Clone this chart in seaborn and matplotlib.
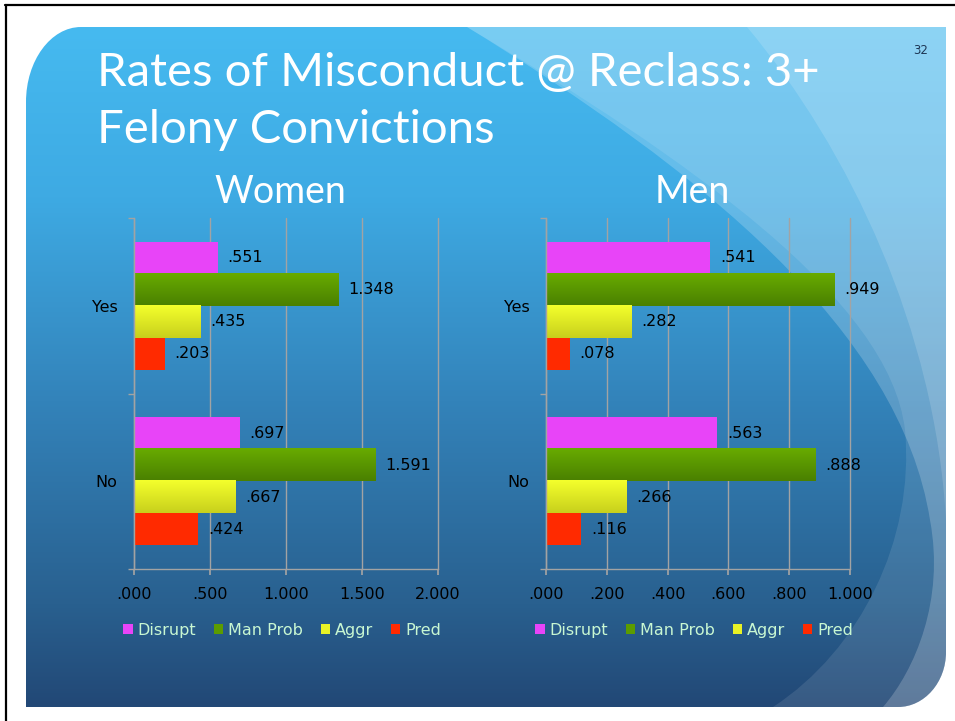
import matplotlib.pyplot as plt
import seaborn as sns
import numpy as np
import pandas as pd
from matplotlib.path import Path
from matplotlib.patches import PathPatch
from matplotlib.colors import LinearSegmentedColormap, to_rgb
from matplotlib.ticker import FuncFormatter, MultipleLocator, FixedLocator

# --- Data ---
answers = ["Yes", "No"]
metrics = ["Disrupt", "Man Prob", "Aggr", "Pred"]

women_disrupt = [0.551, 0.697]
women_man_prob = [1.348, 1.591]
women_aggr = [0.435, 0.667]
women_pred = [0.203, 0.424]

men_disrupt = [0.541, 0.563]
men_man_prob = [0.949, 0.888]
men_aggr = [0.282, 0.266]
men_pred = [0.078, 0.116]

# --- Styling ---
metric_colors = ["#e844f8", "#5c9c00", "#e8f226", "#ff2a00"]
bar_gradients = {"Man Prob": ("#68ab00", "#4a8000"),
                 "Aggr": ("#f4ff2c", "#c8d01c")}
grid_grey = "#a3a3a3"
legend_text = "#c8f7d2"

sns.set_theme(style="white")
plt.rcParams["font.family"] = ["DejaVu Sans"]


def build_frame(disrupt, man_prob, aggr, pred):
    rows = []
    for metric, vals in zip(metrics, [disrupt, man_prob, aggr, pred]):
        for answer, v in zip(answers, vals):
            rows.append({"answer": answer, "metric": metric, "value": v})
    return pd.DataFrame(rows)


def fmt(v, pos=None):
    return f"{v:.3f}".lstrip("0")


def slide_path(x0, y0, x1, y1, tl, br):
    # rounded top-left and bottom-right corners, pixel coords (y down)
    k = 0.45
    verts = [(x0 + tl[0], y0), (x1, y0), (x1, y1 - br[1]),
             (x1, y1 - br[1] * k), (x1 - br[0] * k, y1), (x1 - br[0], y1),
             (x0, y1), (x0, y0 + tl[1]),
             (x0, y0 + tl[1] * k), (x0 + tl[0] * k, y0), (x0 + tl[0], y0),
             (x0 + tl[0], y0)]
    codes = [Path.MOVETO, Path.LINETO, Path.LINETO,
             Path.CURVE4, Path.CURVE4, Path.CURVE4,
             Path.LINETO, Path.LINETO,
             Path.CURVE4, Path.CURVE4, Path.CURVE4,
             Path.CLOSEPOLY]
    return Path(verts, codes)


def swoosh(ax, verts, codes, alpha, clip):
    p = PathPatch(Path(verts, codes), facecolor="white", edgecolor="none",
                  alpha=alpha, transform=ax.transData)
    ax.add_patch(p)
    p.set_clip_path(clip)


fig = plt.figure(figsize=(9.55, 7.21), dpi=100, facecolor="white")

# --- Slide background ---
bg = fig.add_axes([0, 0, 1, 1], zorder=-1)
slide = PathPatch(slide_path(26, 27, 946, 707, (55, 75), (48, 55)),
                  facecolor="none", edgecolor="none", transform=bg.transData)
bg.add_patch(slide)
bg_cmap = LinearSegmentedColormap.from_list(
    "slide", [(0, "#46baf0"), (0.25, "#3eaae3"), (0.55, "#3383ba"),
              (0.85, "#29608f"), (1, "#224876")])
im = bg.imshow(np.linspace(0, 1, 256).reshape(-1, 1), cmap=bg_cmap,
               extent=[26, 946, 707, 27], aspect="auto", interpolation="bilinear")
im.set_clip_path(slide)

C4 = Path.CURVE4
swoosh(bg, [(467, 27), (690, 160), (890, 300), (905, 430),
            (915, 540), (860, 650), (773, 707), (946, 707), (946, 27), (467, 27)],
       [Path.MOVETO, C4, C4, C4, C4, C4, C4, Path.LINETO, Path.LINETO, Path.CLOSEPOLY],
       0.10, slide)
swoosh(bg, [(467, 27), (700, 170), (900, 330), (930, 520),
            (945, 600), (915, 670), (883, 707), (946, 707), (946, 27), (467, 27)],
       [Path.MOVETO, C4, C4, C4, C4, C4, C4, Path.LINETO, Path.LINETO, Path.CLOSEPOLY],
       0.20, slide)
swoosh(bg, [(747, 27), (850, 150), (935, 330), (946, 520), (946, 27), (747, 27)],
       [Path.MOVETO, C4, C4, C4, Path.LINETO, Path.CLOSEPOLY],
       0.15, slide)

bg.plot([5, 955], [5, 5], color="black", lw=1.6)
bg.plot([6, 6], [5, 721], color="black", lw=1.6)
bg.set_xlim(0, 955)
bg.set_ylim(721, 0)
bg.axis("off")

# --- Titles ---
title_font = ["Lato", "DejaVu Sans"]
fig.text(97 / 955, 1 - 86 / 721, "Rates of Misconduct @ Reclass: 3+",
         fontsize=34, color="white", family=title_font, va="baseline")
fig.text(97 / 955, 1 - 143 / 721, "Felony Convictions",
         fontsize=34, color="white", family=title_font, va="baseline")
fig.text(921 / 955, 1 - 50 / 721, "32", fontsize=8.5, color="#1d3654",
         ha="center", va="center")

panels = [
    ("Women", build_frame(women_disrupt, women_man_prob, women_aggr, women_pred),
     134, 2.0, 0.5),
    ("Men", build_frame(men_disrupt, men_man_prob, men_aggr, men_pred),
     546, 1.0, 0.2),
]

for name, df, left_px, xmax, step in panels:
    ax = fig.add_axes([left_px / 955, 1 - 569 / 721, 304 / 955, 351 / 721])
    ax.set_facecolor("none")
    sns.barplot(data=df, x="value", y="answer", hue="metric", orient="h",
                order=answers, hue_order=metrics, palette=metric_colors,
                saturation=1, width=0.73, ax=ax, errorbar=None,
                edgecolor="none", linewidth=0)

    # vertical gradient on the green and yellow bars
    for patch in ax.patches:
        fc = patch.get_facecolor()[:3]
        for metric, col in zip(metrics, metric_colors):
            if metric in bar_gradients and np.allclose(fc, to_rgb(col), atol=0.01):
                top, bottom = bar_gradients[metric]
                cmap = LinearSegmentedColormap.from_list(metric, [top, bottom])
                x0, y0 = patch.get_x(), patch.get_y()
                w, h = patch.get_width(), patch.get_height()
                ax.imshow(np.linspace(0, 1, 64).reshape(-1, 1), cmap=cmap,
                          aspect="auto", interpolation="bilinear",
                          extent=[x0, x0 + w, y0 + h, y0],
                          zorder=patch.get_zorder() + 0.1)

    for container in ax.containers:
        ax.bar_label(container, labels=[fmt(v) for v in container.datavalues],
                     padding=7, fontsize=11.5, color="black")

    ax.set_xlim(0, xmax)
    ax.set_ylim(1.5, -0.5)
    ax.set_xlabel("")
    ax.set_ylabel("")
    ax.xaxis.set_major_locator(MultipleLocator(step))
    ax.xaxis.set_major_formatter(FuncFormatter(fmt))
    ax.yaxis.set_minor_locator(FixedLocator([-0.5, 0.5, 1.5]))
    ax.grid(axis="x", color=grid_grey, lw=1)
    ax.grid(axis="y", visible=False)
    for line in ax.get_xgridlines():
        line.set_clip_on(False)
    ax.set_axisbelow(True)
    for side in ["top", "right"]:
        ax.spines[side].set_visible(False)
    for side in ["left", "bottom"]:
        ax.spines[side].set_color(grid_grey)
        ax.spines[side].set_linewidth(1)
    ax.tick_params(axis="x", bottom=True, direction="out", length=4,
                   color=grid_grey, labelsize=11.5, labelcolor="black", pad=9)
    ax.tick_params(axis="y", which="major", left=False, length=0, pad=12,
                   labelsize=11.5, labelcolor="black")
    ax.tick_params(axis="y", which="minor", left=True, direction="out",
                   length=4.5, color=grid_grey, width=1)

    ax.set_title(name, fontsize=27, color="white", family=title_font, pad=11,
                 x=0.48)

    sns.move_legend(ax, "center", bbox_to_anchor=(0.487, -0.174), ncol=4,
                    frameon=False, title=None, fontsize=11.5,
                    handlelength=0.6, handleheight=0.6, handletextpad=0.3,
                    columnspacing=1.1)
    for t in ax.get_legend().get_texts():
        t.set_color(legend_text)

fig.savefig("out.png", dpi=100)
